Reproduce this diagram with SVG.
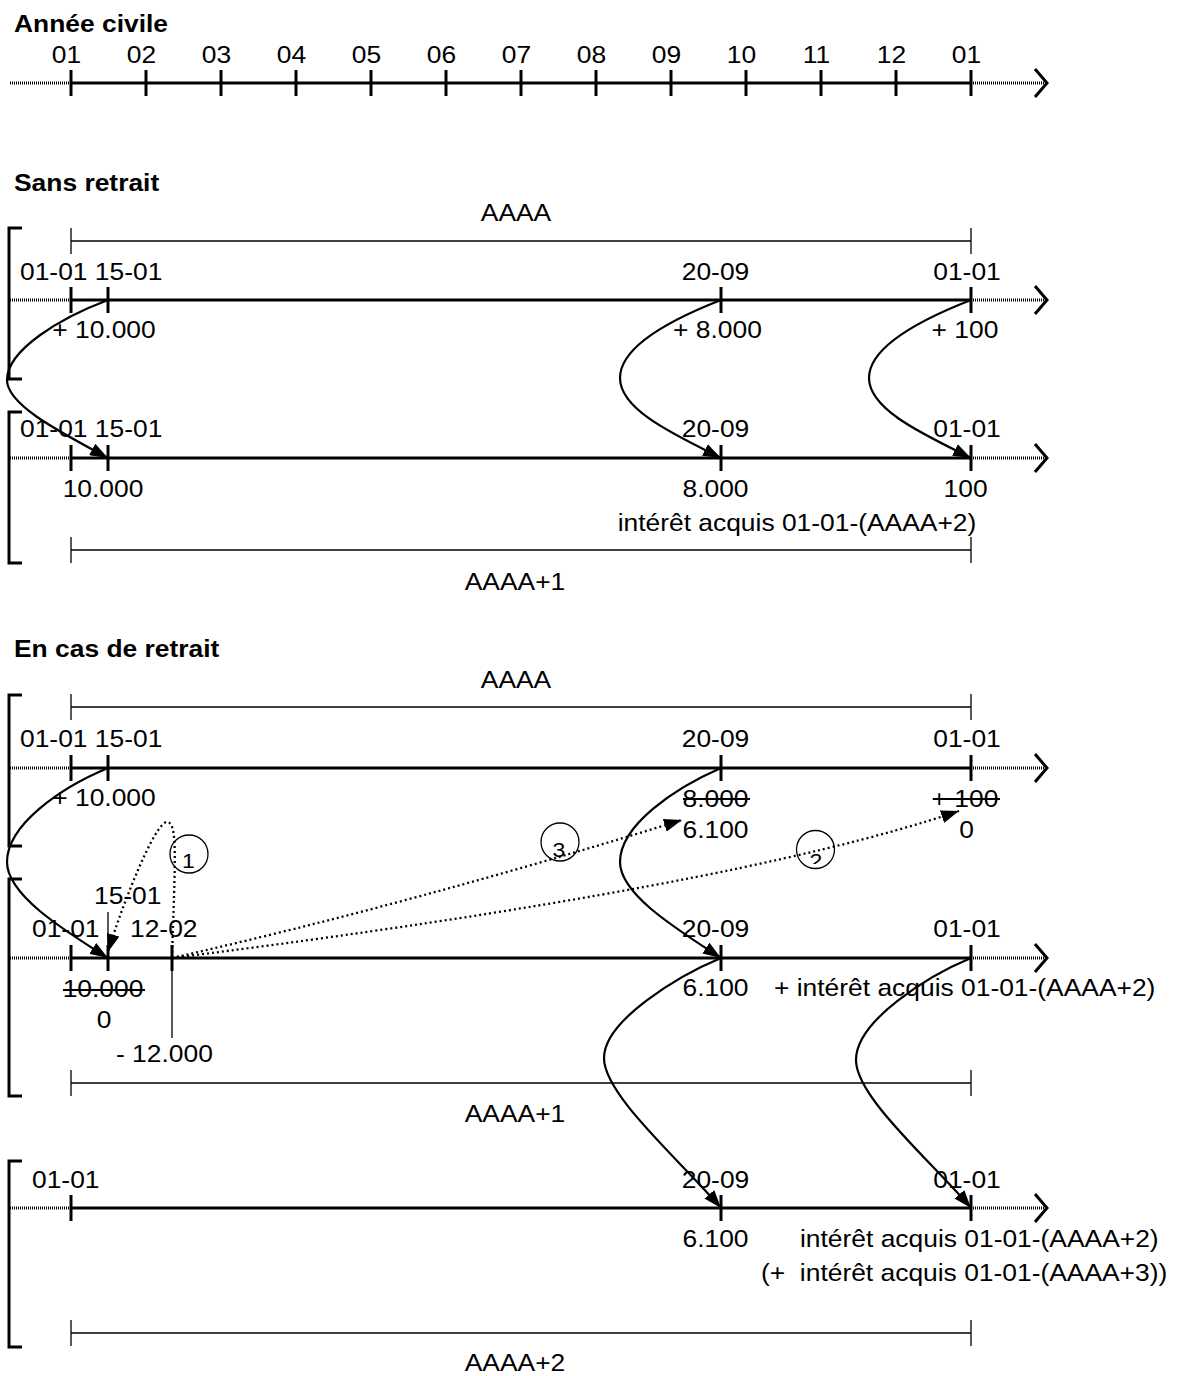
<svg xmlns="http://www.w3.org/2000/svg" width="1179" height="1376" viewBox="0 0 1179 1376">
<style>
.ax{stroke:#000;stroke-width:3;fill:none}
.ext{stroke:#000;stroke-width:3;stroke-dasharray:1 1;fill:none}
.chev{stroke:#000;stroke-width:3;fill:none;stroke-linejoin:miter}
.dim{stroke:#000;stroke-width:1.3;fill:none}
.br{stroke:#000;stroke-width:3;fill:none;stroke-linejoin:miter}
.cv{stroke:#000;stroke-width:2.2;fill:none;marker-end:url(#ah)}
.dt{stroke:#000;stroke-width:2.3;stroke-dasharray:2 3;fill:none;marker-end:url(#ah)}
.st{stroke:#000;stroke-width:2}
.thin{stroke:#000;stroke-width:1.3;fill:none}
.circ{fill:none;stroke:#000;stroke-width:1.3}
text{font-family:"Liberation Sans",Arial,sans-serif;font-size:24px;fill:#000}
.b{font-weight:bold}
.m{text-anchor:middle}
.c{font-size:21px}
</style>
<defs>
<marker id="ah" viewBox="0 0 18 13" refX="18" refY="6.5" markerWidth="18" markerHeight="13" markerUnits="userSpaceOnUse" orient="auto">
<path d="M0,0 L18,6.5 L0,13 z" fill="#000"/>
</marker>
<clipPath id="clip2" clipPathUnits="userSpaceOnUse"><rect x="700" y="820" width="100" height="44"/></clipPath>
</defs>
<rect width="1179" height="1376" fill="#fff"/>

<g id="calendar-axis">
<path class="ext" d="M10,83 H71 M971,83 H1046"/>
<path class="ax" d="M71,83 H971"/>
<path class="chev" d="M1035,69 L1047,83 L1035,97"/>
<path class="ax" d="M71,70 V96 M146,70 V96 M221,70 V96 M296,70 V96 M371,70 V96 M446,70 V96 M521,70 V96 M596,70 V96 M671,70 V96 M746,70 V96 M821,70 V96 M896,70 V96 M971,70 V96"/>
</g>

<g id="sr-brackets">
<path class="br" d="M22,228 H9 V379 H22"/>
<path class="br" d="M22,412 H9 V563 H22"/>
</g>
<g id="sr-dim-AAAA"><path class="dim" d="M71,241 H971 M71,228 V254 M971,228 V254"/></g>
<g id="sr-axis-AAAA">
<path class="ext" d="M10,300 H71 M971,300 H1046"/>
<path class="ax" d="M71,300 H971 M71,287 V313 M108,287 V313 M721,287 V313 M971,287 V313"/>
<path class="chev" d="M1035,286 L1047,300 L1035,314"/>
</g>
<g id="sr-axis-AAAA1">
<path class="ext" d="M10,458 H71 M971,458 H1046"/>
<path class="ax" d="M71,458 H971 M71,445 V471 M108,445 V471 M721,445 V471 M971,445 V471"/>
<path class="chev" d="M1035,444 L1047,458 L1035,472"/>
</g>
<g id="sr-dim-AAAA1"><path class="dim" d="M71,550 H971 M71,537 V563 M971,537 V563"/></g>

<g id="r-brackets">
<path class="br" d="M22,695 H9 V846 H22"/>
<path class="br" d="M22,879 H9 V1096 H22"/>
<path class="br" d="M22,1161 H9 V1347 H22"/>
</g>
<g id="r-dim-AAAA"><path class="dim" d="M71,707 H971 M71,694 V720 M971,694 V720"/></g>
<g id="r-axis-AAAA">
<path class="ext" d="M10,768 H71 M971,768 H1046"/>
<path class="ax" d="M71,768 H971 M71,755 V781 M108,755 V781 M721,755 V781 M971,755 V781"/>
<path class="chev" d="M1035,754 L1047,768 L1035,782"/>
<path class="st" d="M683,799 H750 M933,799 H1000"/>
</g>
<g id="r-axis-AAAA1">
<path class="ext" d="M10,958 H71 M971,958 H1046"/>
<path class="ax" d="M71,958 H971 M71,945 V971 M108,945 V971 M172,945 V971 M721,945 V971 M971,945 V971"/>
<path class="chev" d="M1035,944 L1047,958 L1035,972"/>
<path class="thin" d="M108,912 V958 M172,958 V1038"/>
<path class="st" d="M63,990 H145"/>
</g>
<g id="r-dim-AAAA1"><path class="dim" d="M71,1083 H971 M71,1070 V1096 M971,1070 V1096"/></g>
<g id="r-axis-AAAA2">
<path class="ext" d="M10,1208 H71 M971,1208 H1046"/>
<path class="ax" d="M71,1208 H971 M71,1195 V1221 M721,1195 V1221 M971,1195 V1221"/>
<path class="chev" d="M1035,1194 L1047,1208 L1035,1222"/>
</g>
<g id="r-dim-AAAA2"><path class="dim" d="M71,1333 H971 M71,1320 V1346 M971,1320 V1346"/></g>

<g id="circles">
<circle class="circ" cx="189" cy="854" r="19"/>
<circle class="circ" cx="560" cy="842" r="19"/>
<circle class="circ" cx="815.5" cy="849.5" r="19"/>
</g>

<g id="labels" transform="scale(1.1 1)">
<text class="b" x="12.73" y="32">Année civile</text>
<text class="m" x="60.45" y="63">01</text>
<text class="m" x="128.64" y="63">02</text>
<text class="m" x="196.82" y="63">03</text>
<text class="m" x="265" y="63">04</text>
<text class="m" x="333.18" y="63">05</text>
<text class="m" x="401.36" y="63">06</text>
<text class="m" x="469.55" y="63">07</text>
<text class="m" x="537.73" y="63">08</text>
<text class="m" x="605.91" y="63">09</text>
<text class="m" x="674.09" y="63">10</text>
<text class="m" x="742.27" y="63">11</text>
<text class="m" x="810.45" y="63">12</text>
<text class="m" x="878.64" y="63">01</text>

<text class="b" x="12.73" y="191">Sans retrait</text>
<text class="m" x="469.09" y="221">AAAA</text>
<text x="18.18" y="280">01-01 15-01</text>
<text class="m" x="650.45" y="280">20-09</text>
<text class="m" x="879.09" y="280">01-01</text>
<text class="m" x="94.55" y="338">+ 10.000</text>
<text class="m" x="652.27" y="338">+ 8.000</text>
<text class="m" x="877.27" y="338">+ 100</text>
<text x="18.18" y="437">01-01 15-01</text>
<text class="m" x="650.45" y="437">20-09</text>
<text class="m" x="879.09" y="437">01-01</text>
<text class="m" x="93.64" y="497">10.000</text>
<text class="m" x="650.45" y="497">8.000</text>
<text class="m" x="877.82" y="497">100</text>
<text x="561.5" y="531">intérêt acquis 01-01-(AAAA+2)</text>
<text class="m" x="468.18" y="590">AAAA+1</text>

<text class="b" x="12.73" y="657">En cas de retrait</text>
<text class="m" x="469.09" y="688">AAAA</text>
<text x="18.18" y="747">01-01 15-01</text>
<text class="m" x="650.45" y="747">20-09</text>
<text class="m" x="879.09" y="747">01-01</text>
<text class="m" x="94.55" y="806">+ 10.000</text>
<text class="m" x="650.45" y="807">8.000</text>
<text class="m" x="877.27" y="807">+ 100</text>
<text class="m" x="650.45" y="838">6.100</text>
<text class="m" x="878.64" y="838">0</text>
<text class="m c" x="171.27" y="868">1</text>
<text class="m c" x="508.18" y="857">3</text>
<text class="m c" x="741.82" y="868" clip-path="url(#clip2)">2</text>
<text x="85.45" y="904">15-01</text>
<text x="29.09" y="937">01-01</text>
<text x="118.18" y="937">12-02</text>
<text class="m" x="650.45" y="937">20-09</text>
<text class="m" x="879.09" y="937">01-01</text>
<text class="m" x="93.64" y="997">10.000</text>
<text class="m" x="94.55" y="1028">0</text>
<text x="105.45" y="1062">- 12.000</text>
<text class="m" x="650.45" y="996">6.100</text>
<text x="703.64" y="996">+ intérêt acquis 01-01-(AAAA+2)</text>
<text class="m" x="468.18" y="1122">AAAA+1</text>

<text x="29.09" y="1188">01-01</text>
<text class="m" x="650.45" y="1188">20-09</text>
<text class="m" x="879.09" y="1188">01-01</text>
<text class="m" x="650.45" y="1247">6.100</text>
<text x="727.27" y="1247">intérêt acquis 01-01-(AAAA+2)</text>
<text x="691.82" y="1281" xml:space="preserve">(+  intérêt acquis 01-01-(AAAA+3))</text>
<text class="m" x="468.18" y="1371">AAAA+2</text>
</g>

<g id="connectors">
<path class="cv" d="M108,300 C60,318 7,350 7,380 C7,405 60,432 108,458"/>
<path class="cv" d="M721,300 C675,318 620,345 620,378 C620,410 675,435 721,458"/>
<path class="cv" d="M971,300 C925,318 869,345 869,378 C869,410 925,435 971,458"/>
<path class="cv" d="M108,768 C60,788 7,825 7,862 C7,894 60,928 108,958"/>
<path class="cv" d="M721,768 C675,788 620,825 620,862 C620,894 675,928 721,958"/>
<path class="cv" d="M721,958 C680,975 604,1020 604,1058 C604,1095 680,1160 721,1208"/>
<path class="cv" d="M971,958 C930,975 856,1020 856,1060 C856,1097 930,1160 971,1208"/>
<path class="dt" d="M172,958 C175,860 178,822 167,822 C155,822 122,905 108,952"/>
<path class="dt" d="M172,958 Q414,903 682,820"/>
<path class="dt" d="M172,958 Q730,888 959,811"/>
</g>
</svg>
